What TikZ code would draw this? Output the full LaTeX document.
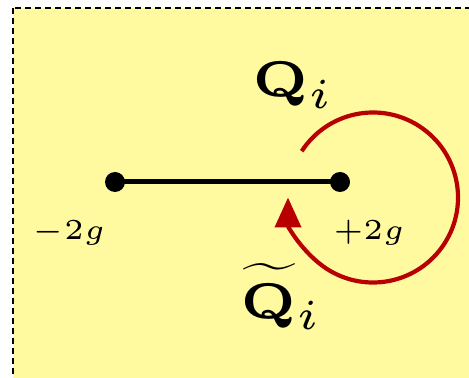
\documentclass[tikz,border=0pt]{standalone}
\usepackage{graphicx}
\usetikzlibrary{arrows.meta}
\definecolor{bgyellow}{RGB}{255,250,160}
\definecolor{arcred}{RGB}{185,0,0}
\newcommand\tinylbl[2]{\scalebox{#1}{\fontsize{5}{6}\selectfont$#2$}}
\newcommand\subi{\scalebox{0.85}{$i$}}
\newcommand\widetil{\scalebox{2.6}{\fontsize{10}{12}\selectfont$\widetilde{\hbox to 11pt{}}$}}
\begin{document}
\begin{tikzpicture}[x=0.5pt,y=0.5pt,
  endpt/.style={circle,fill=black,inner sep=0,minimum size=10pt},
  lbl/.style={inner sep=0,anchor=base},
  seg/.style={line width=2.5pt},
  loopline/.style={arcred,line width=2.1pt,-{Triangle[length=15pt,width=13pt]}}]
\useasboundingbox (0,0) rectangle (469,-378);
\fill[white] (0,0) rectangle (469,-378);
\begin{scope}
\clip (0,0) rectangle (469,-378);
\draw[fill=bgyellow, dash pattern=on 3pt off 2pt, line width=0.9pt] (13,-8) rectangle (490,-400);
\end{scope}
\node[endpt] (a) at (115,-182) {};
\node[endpt] (b) at (340,-182) {};
\draw[seg] (a.center) -- (b.center);
\coordinate (c) at (373,-197.5);
\coordinate (s) at ([shift={(147:85)}]c);
\draw[loopline] (s) arc[start angle=147, end angle=-180, radius=85];
\node[lbl] (lm) at (69,-240) {\tinylbl{2.9}{-2g}};
\node[lbl] (lp) at (369,-240) {\tinylbl{2.9}{+2g}};
\node[lbl] (q) at (294,-97) {\tinylbl{5}{\mathbf{Q}_{\subi}}};
\node[lbl] (qt) at (282,-318) {\hbox{\rlap{\hspace{0.5pt}\raisebox{7.6pt}{\widetil}}\tinylbl{5}{\mathbf{Q}_{\subi}}}};
\end{tikzpicture}
\end{document}
